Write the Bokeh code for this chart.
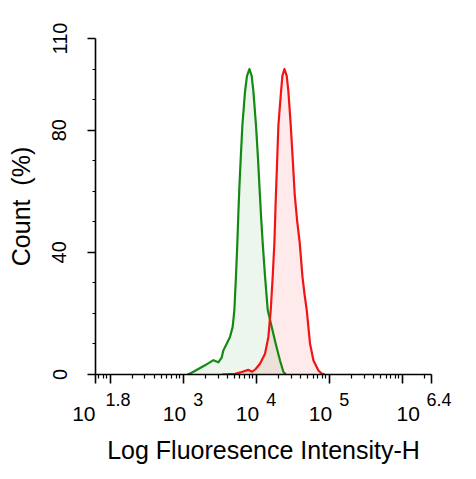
from bokeh.plotting import figure
from bokeh.models import FixedTicker, CustomJSTickFormatter, LogAxis, Range1d
from bokeh.embed import file_html
from bokeh.resources import INLINE

# ---- data (intensity, % of max count) ----
green_x = [1153, 1306, 1991, 2594, 3034, 3365, 3556, 3945, 4375, 4764, 5023, 5284,
           5521, 5724, 5902, 6138, 6471, 7031, 7482, 8072, 8670, 9162, 9937, 10593,
           11169, 11641, 12274, 13213, 14388, 16293, 18493, 21184, 23605, 25354]
green_y = [0.0, 0.6, 3.0, 4.7, 4.0, 5.5, 7.9, 10.1, 12.3, 15.6, 21.1, 32.1,
           43.1, 54.0, 62.0, 70.6, 81.6, 92.6, 97.8, 100.0, 97.8, 92.6, 81.6, 70.6,
           60.0, 52.0, 43.1, 32.1, 21.1, 15.6, 10.1, 4.6, 0.8, 0.0]

red_x = [3365, 5129, 6324, 7816, 8810, 9843, 11272, 13213, 14690, 15812, 16829,
         17746, 18450, 19231, 20137, 21878, 22856, 24322, 26182, 27606, 29707,
         31623, 33651, 36475, 39446, 42954, 45709, 49204, 54576, 60814, 71121,
         78886, 86696]
red_y = [0.0, 0.2, 0.8, 1.5, 0.9, 1.8, 3.5, 6.8, 12.3, 21.1, 32.1,
         43.1, 56.0, 68.0, 81.6, 92.6, 97.8, 100.0, 97.8, 92.6, 81.6,
         70.6, 59.0, 50.0, 43.1, 32.1, 26.6, 21.1, 10.1, 4.6, 1.3,
         0.3, 0.0]

x_label_exps = [1.8, 3, 4, 5, 6.4]
x_label_texts = ["1.8", "3", "4", "5", "6.4"]
x_label_base = "10"
x_decades = [2, 3, 4, 5, 6]
y_major = [0, 40, 80, 110]
y_minor = [10, 20, 30, 50, 60, 70, 90, 100]

FONT = "Liberation Sans"
GREEN = "#138a13"
RED = "#f21414"
NB = "\u00a0"

x_lo, x_hi = 10 ** 1.8, 10 ** 6.4

p = figure(width=468, height=471, x_axis_type="log",
           x_range=Range1d(x_lo, x_hi), y_range=Range1d(0, 110),
           output_backend="svg", toolbar_location=None,
           min_border_left=95, min_border_right=37,
           min_border_top=38, min_border_bottom=97)
p.outline_line_color = None
p.grid.visible = False
p.background_fill_color = "white"
p.border_fill_color = "white"

# fills then lines
p.varea(x=green_x, y1=0, y2=green_y, fill_color=GREEN, fill_alpha=0.08)
p.varea(x=red_x, y1=0, y2=red_y, fill_color=RED, fill_alpha=0.09)
p.line(green_x, green_y, line_color=GREEN, line_width=2.2, line_join="round")
p.line(red_x, red_y, line_color=RED, line_width=2.2, line_join="round")

# ---- x axis: ticks + raised exponents ----
label_pos = [10.0 ** e for e in x_label_exps]
pad_exp = [9, 6, 6, 6, 3]      # horizontal placement of exponents (nbsp padding)
pad_ten = [4, 3, 3, 3, 8]      # horizontal placement of the "10" base
exp_labels = [NB * m + s for m, s in zip(pad_exp, x_label_texts)]
ten_labels = [x_label_base + NB * n for n in pad_ten]

JS = """
const lt = Math.log10(tick);
for (let i = 0; i < xs.length; i++) {
  if (Math.abs(lt - Math.log10(xs[i])) < 1e-6) { return labs[i]; }
}
return "";
"""

major_x = [x_lo] + [10.0 ** d for d in x_decades] + [x_hi]
minor_x = [k * 10.0 ** n for n in range(1, 7) for k in range(2, 10) if x_lo < k * 10.0 ** n < x_hi]
xa = p.xaxis[0]
xa.ticker = FixedTicker(ticks=major_x, minor_ticks=minor_x)
xa.formatter = CustomJSTickFormatter(args=dict(xs=label_pos, labs=exp_labels), code=JS)
xa.major_tick_out = 9
xa.major_tick_in = 0
xa.minor_tick_out = 4
xa.minor_tick_in = 0
xa.axis_line_width = 1.6
xa.major_tick_line_width = 1.6
xa.minor_tick_line_width = 1.2
xa.major_label_text_font = FONT
xa.major_label_text_font_size = "18px"
xa.major_label_text_color = "black"
xa.major_label_standoff = 6
xa.major_label_orientation = "horizontal"

ax10 = LogAxis(ticker=FixedTicker(ticks=label_pos, minor_ticks=[]),
               formatter=CustomJSTickFormatter(args=dict(xs=label_pos, labs=ten_labels), code=JS))
ax10.axis_line_color = None
ax10.major_tick_line_color = None
ax10.minor_tick_line_color = None
ax10.major_tick_out = 0
ax10.major_tick_in = 0
ax10.minor_tick_out = 0
ax10.minor_tick_in = 0
ax10.major_label_text_font = FONT
ax10.major_label_text_font_size = "21px"
ax10.major_label_text_color = "black"
ax10.major_label_standoff = -11
ax10.major_label_orientation = "horizontal"
ax10.axis_label = "Log Fluoresence Intensity-H"
ax10.axis_label_text_font = FONT
ax10.axis_label_text_font_size = "25px"
ax10.axis_label_text_font_style = "normal"
ax10.axis_label_text_color = "black"
ax10.axis_label_standoff = 8
p.add_layout(ax10, "below")

# ---- y axis ----
ya = p.yaxis[0]
ya.ticker = FixedTicker(ticks=y_major, minor_ticks=y_minor)
ya.major_tick_out = 8
ya.major_tick_in = 0
ya.minor_tick_out = 3
ya.minor_tick_in = 0
ya.axis_line_width = 1.6
ya.major_tick_line_width = 1.6
ya.minor_tick_line_width = 1.2
ya.major_label_orientation = "vertical"
ya.major_label_text_font = FONT
ya.major_label_text_font_size = "20px"
ya.major_label_text_color = "black"
ya.major_label_standoff = 21
ya.axis_label = "Count" + NB + NB + "(%)"
ya.axis_label_text_font = FONT
ya.axis_label_text_font_size = "25px"
ya.axis_label_text_font_style = "normal"
ya.axis_label_text_color = "black"
ya.axis_label_standoff = 15

open("out.html", "w").write(file_html(p, INLINE))
